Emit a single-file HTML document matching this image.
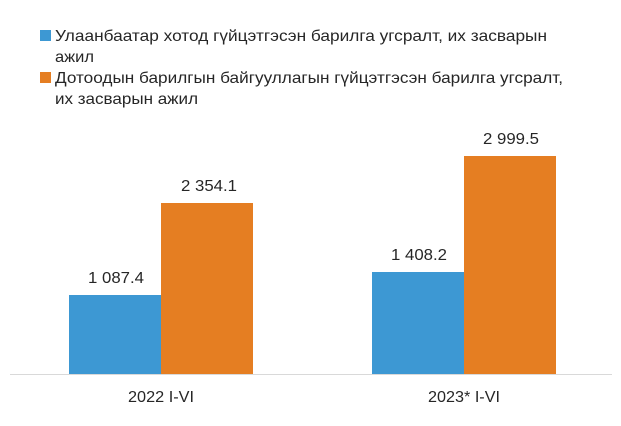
<!DOCTYPE html>
<html><head><meta charset="utf-8"><style>
body{margin:0;background:#fff;width:621px;height:421px;overflow:hidden}
text{font-family:"Liberation Sans",sans-serif;fill:#262626}
</style></head><body>
<svg width="621" height="421" xmlns="http://www.w3.org/2000/svg">
<rect x="40" y="30" width="11" height="11" fill="#3d98d3"/>
<rect x="40" y="72" width="11" height="11" fill="#e57e22"/>
<text x="55" y="41" font-size="16" textLength="492" lengthAdjust="spacingAndGlyphs">Улаанбаатар хотод гүйцэтгэсэн барилга угсралт, их засварын</text>
<text x="55" y="62" font-size="16" textLength="39" lengthAdjust="spacingAndGlyphs">ажил</text>
<text x="55" y="83" font-size="16" textLength="508" lengthAdjust="spacingAndGlyphs">Дотоодын барилгын байгууллагын гүйцэтгэсэн барилга угсралт,</text>
<text x="55" y="104" font-size="16" textLength="143" lengthAdjust="spacingAndGlyphs">их засварын ажил</text>
<rect x="69" y="295" width="92" height="79" fill="#3d98d3"/>
<rect x="161" y="203" width="92" height="171" fill="#e57e22"/>
<rect x="372" y="272" width="92" height="102" fill="#3d98d3"/>
<rect x="464" y="156" width="92" height="218" fill="#e57e22"/>
<line x1="10" y1="374.5" x2="612" y2="374.5" stroke="#d9d9d9" stroke-width="1"/>
<g font-size="16" text-anchor="middle">
<text x="116" y="283" textLength="56" lengthAdjust="spacingAndGlyphs">1 087.4</text>
<text x="209" y="191" textLength="56" lengthAdjust="spacingAndGlyphs">2 354.1</text>
<text x="419" y="260" textLength="56" lengthAdjust="spacingAndGlyphs">1 408.2</text>
<text x="511" y="144" textLength="56" lengthAdjust="spacingAndGlyphs">2 999.5</text>
<text x="161" y="402" textLength="66" lengthAdjust="spacingAndGlyphs">2022 I-VI</text>
<text x="464" y="402" textLength="72" lengthAdjust="spacingAndGlyphs">2023* I-VI</text>
</g>
</svg>
</body></html>
